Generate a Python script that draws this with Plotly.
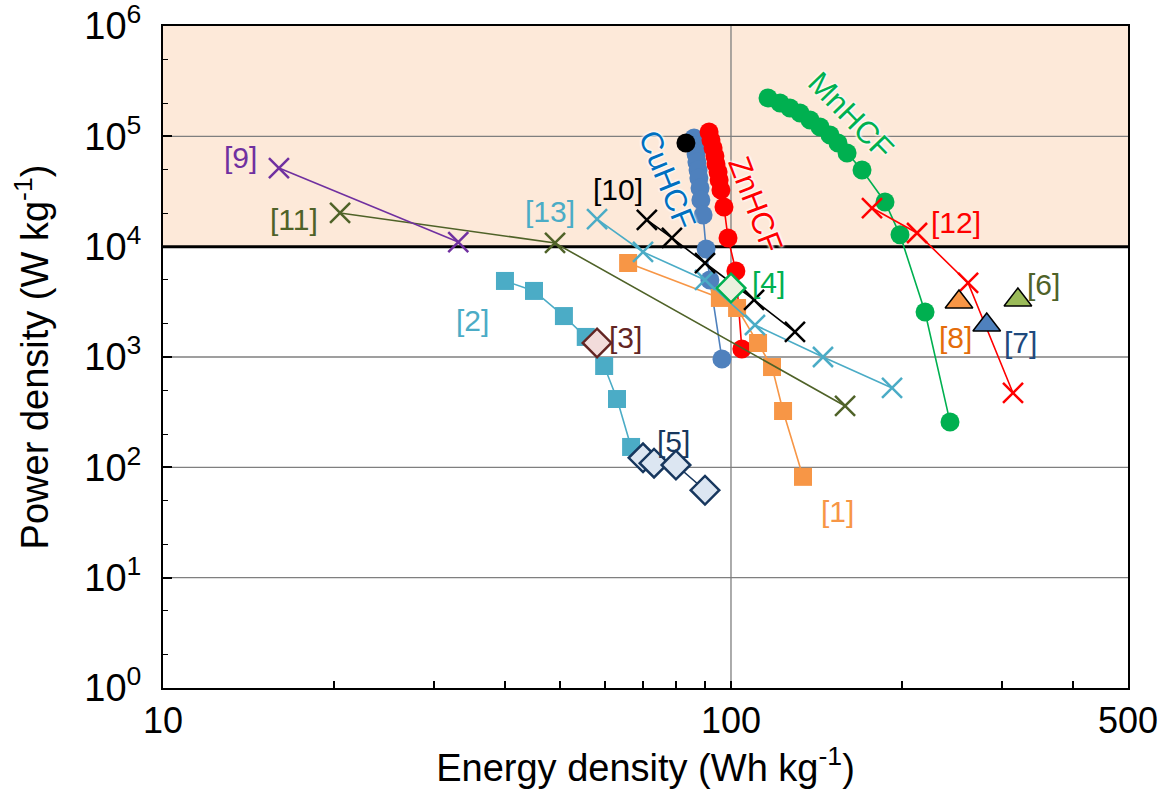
import numpy as np
import plotly.graph_objects as go

# ---------------- data (Energy density Wh/kg, Power density W/kg) ----------------
cu_E = [86.1, 86.5, 86.8, 87.1, 87.5, 87.8, 88.2, 88.5, 89.3, 90.4, 91.8, 96.4]
cu_P = [96600, 81800, 69200, 58500, 49500, 41900, 34000, 26500, 19400, 9530, 4990, 960]

blk_E = [83.3]
blk_P = [87000]

zn_E = [91.5, 92.2, 93.0, 93.7, 94.1, 94.9, 95.3, 96.0, 97.2, 98.8, 102.0, 104.5]
zn_P = [109500, 92700, 78500, 66400, 56100, 47500, 40200, 32600, 22900, 12000, 6020, 1180]

mn_E = [116.2, 122.0, 127.0, 132.3, 137.8, 143.5, 149.4, 154.3, 160.1, 170.1, 186.7, 198.4, 219.6, 243.0]
mn_P = [222700, 200700, 180900, 162900, 140700, 121600, 102900, 87100, 70700, 49500, 25400, 12800, 2560, 258]

r1_E = [65.9, 95.6, 102.5, 111.6, 118.1, 123.5, 133.9]
r1_P = [7110, 3430, 2780, 1340, 811, 324, 82]

r2_E = [40.0, 45.0, 50.8, 55.5, 59.8, 63.0, 66.7]
r2_P = [4890, 3970, 2350, 1520, 829, 416, 153]

r3_E = [58.1]
r3_P = [1340]

r4_E = [100.0]
r4_P = [4220]

r5_E = [70.0, 73.2, 80.0, 90.0]
r5_P = [122, 109, 105, 62]

r6_E = [320]
r6_P = [3290]

r7_E = [282]
r7_P = [1950]

r8_E = [252]
r8_P = [3150]

r9_E = [16.0, 33.1]
r9_P = [51600, 11000]

r10_E = [71.1, 78.7, 90.0, 109.8, 129.6]
r10_P = [17500, 12000, 7110, 3290, 1690]

r11_E = [20.5, 49.0, 158.8]
r11_P = [20200, 10800, 360]

r12_E = [177.1, 212.6, 261.5, 313.7]
r12_P = [22400, 13300, 4690, 472]

r13_E = [58.1, 70.0, 90.0, 110.2, 145.2, 192.1]
r13_P = [17800, 8950, 4990, 1950, 1000, 524]

x_tickvals = [10, 20, 30, 40, 50, 60, 70, 80, 90, 100, 200, 300, 400, 500]
x_ticktext = ["10", "", "", "", "", "", "", "", "", "100", "", "", "", "500"]
y_tickvals = [1, 10, 100, 1000, 10000, 100000, 1000000]
y_ticktext = ["10<sup>0</sup>", "10<sup>1</sup>", "10<sup>2</sup>", "10<sup>3</sup>",
              "10<sup>4</sup>", "10<sup>5</sup>", "10<sup>6</sup>"]

# label texts, their anchor points (E, P) and colours
ref_labels = ["[1]", "[2]", "[3]", "[4]", "[5]", "[6]", "[7]", "[8]", "[9]", "[10]", "[11]", "[12]", "[13]"]
ref_lab_E = [154.2, 35.1, 65.1, 116.2, 79.1, 355.6, 324.0, 248.9, 13.7, 63.3, 17.0, 248.9, 48.0]
ref_lab_P = [39.4, 2163, 1517, 4690, 170, 4500, 1340, 1517, 63700, 33300, 17460, 16400, 21000]
ref_lab_col = ["#f79646", "#4bacc6", "#632523", "#00b050", "#17375e", "#4f6228", "#1f497d",
               "#e46c0a", "#7030a0", "#000000", "#4f6228", "#ff0000", "#4bacc6"]

mat_labels = ["CuHCF", "ZnHCF", "MnHCF"]
mat_lab_E = [77.4, 110.3, 162.7]
mat_lab_P = [40200, 23900, 156000]
mat_lab_col = ["#0070c0", "#ff0000", "#00b050"]
mat_lab_ang = [68, 69, 46]

FONT = "Liberation Sans, Arial, sans-serif"

fig = go.Figure()


def series(E, P, symbol, color, size, mode="lines+markers", lcolor=None, lw=1.6,
           mlcolor=None, mlw=0, fill=None):
    fig.add_trace(go.Scatter(
        x=E, y=P, mode=mode,
        line=dict(color=lcolor or color, width=lw),
        marker=dict(symbol=symbol, size=size, color=fill or color,
                    line=dict(color=mlcolor or color, width=mlw)),
        showlegend=False, hoverinfo="x+y"))


# lines/markers (drawing order roughly bottom to top)
series(cu_E, cu_P, "circle", "#4f81bd", 19)
series(zn_E, zn_P, "circle", "#ff0000", 19)
series(blk_E, blk_P, "circle", "#000000", 19, mode="markers")
series(mn_E, mn_P, "circle", "#00b050", 19)
series(r2_E, r2_P, "square", "#4bacc6", 18)
series(r5_E, r5_P, "diamond", "#17375e", 22, fill="#dce6f2", mlcolor="#17375e", mlw=2.5)
series(r3_E, r3_P, "diamond", "#632523", 22, mode="markers", fill="#f2dcdb", mlcolor="#632523", mlw=2.5)
series(r1_E, r1_P, "square", "#f79646", 18)
series(r11_E, r11_P, "x-thin", "#4f6228", 20, mlw=2.5)
series(r9_E, r9_P, "x-thin", "#7030a0", 20, mlw=2.5)
series(r13_E, r13_P, "x-thin", "#4bacc6", 20, mlw=2.5)
series(r10_E, r10_P, "x-thin", "#000000", 20, mlw=2.5)
series(r12_E, r12_P, "x-thin", "#ff0000", 20, mlw=2.5)
series(r4_E, r4_P, "diamond", "#00b050", 22, mode="markers", fill="#ebf1de", mlcolor="#00b050", mlw=2.5)
series(r8_E, r8_P, "triangle-up", "#f79646", 24, mode="markers", mlcolor="#000000", mlw=1.5)
series(r7_E, r7_P, "triangle-up", "#4f81bd", 24, mode="markers", mlcolor="#000000", mlw=1.5)
series(r6_E, r6_P, "triangle-up", "#9bbb59", 24, mode="markers", mlcolor="#000000", mlw=1.5)

# shaded high-power region and lines
fig.add_shape(type="rect", xref="paper", yref="y", x0=0, x1=1, y0=1e4, y1=1e6,
              fillcolor="#fde9d9", line=dict(width=0), layer="below")
for yv in [10, 100, 1000, 1e5]:
    fig.add_shape(type="line", xref="paper", yref="y", x0=0, x1=1, y0=yv, y1=yv,
                  line=dict(color="#7f7f7f", width=1.3), layer="below")
fig.add_shape(type="line", xref="x", yref="paper", x0=100, x1=100, y0=0, y1=1,
              line=dict(color="#7f7f7f", width=1.3), layer="below")
fig.add_shape(type="line", xref="paper", yref="y", x0=0, x1=1, y0=1e4, y1=1e4,
              line=dict(color="#000000", width=3), layer="below")

for t, e, p, c in zip(ref_labels, ref_lab_E, ref_lab_P, ref_lab_col):
    fig.add_annotation(x=np.log10(e), y=np.log10(p), text=t, showarrow=False,
                       font=dict(family=FONT, size=30, color=c))

for t, e, p, c, a in zip(mat_labels, mat_lab_E, mat_lab_P, mat_lab_col, mat_lab_ang):
    fig.add_annotation(x=np.log10(e), y=np.log10(p), text=t, showarrow=False, textangle=a,
                       font=dict(family=FONT, size=31, color=c,
                                 shadow="0px 0px 3px white, 0px 0px 3px white, 0px 0px 3px white"))

fig.update_layout(
    width=1161, height=791,
    margin=dict(l=163, r=33, t=26, b=103, autoexpand=False),
    paper_bgcolor="white", plot_bgcolor="white",
    font=dict(family=FONT, color="black"),
    xaxis=dict(type="log", range=[1, np.log10(500)], tickvals=x_tickvals, ticktext=x_ticktext,
               automargin=False, ticklabeloverflow="allow",
               ticks="inside", ticklen=7, tickwidth=1.5, tickcolor="black",
               showgrid=False, zeroline=False,
               showline=True, linecolor="black", linewidth=2, mirror=True,
               tickfont=dict(size=36, family=FONT), ticklabelstandoff=0,
               title=dict(text="Energy density (Wh kg<sup>-1</sup>)", font=dict(size=38, family=FONT),
                          standoff=10)),
    yaxis=dict(type="log", range=[0, 6], tickvals=y_tickvals, ticktext=y_ticktext,
               automargin=False, ticklabeloverflow="allow",
               ticks="inside", ticklen=9, tickwidth=1.5, tickcolor="black",
               minor=dict(ticks="inside", ticklen=5, tickwidth=1, tickcolor="black", showgrid=False),
               showgrid=False, zeroline=False,
               showline=True, linecolor="black", linewidth=2, mirror=True,
               tickfont=dict(size=38, family=FONT), ticklabelstandoff=12,
               title=dict(text="Power density (W kg<sup>-1</sup>)", font=dict(size=38, family=FONT),
                          standoff=24)),
)

fig.write_html("out.html")
